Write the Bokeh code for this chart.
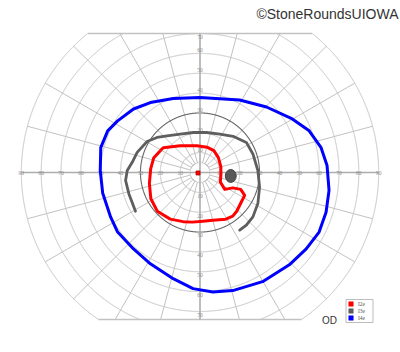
import numpy as np
from bokeh.plotting import figure
from bokeh.models import Range1d, Label
from bokeh.core.properties import value
from bokeh.embed import file_html
from bokeh.resources import INLINE

# ---------------- data (visual-field degrees, x = temporal/nasal, y = superior/inferior)
ring_radii = [10, 20, 30, 40, 50, 60, 70, 80, 90]
inner_ring = 5
spoke_angles = list(range(0, 360, 15))
h_tick_values = [10, 20, 30, 40, 50, 60, 70, 80, 90]
v_tick_values_up = [10, 20, 30, 40, 50, 60, 70]
v_tick_values_down = [10, 20, 30, 40, 50, 60, 70]
field_top = 70
field_bottom = -74

iso_names = ["I2e", "I3e", "I4e"]
iso_colors = ["#ff0000", "#5e5e5e", "#0000ff"]

i2e_x = [-20, -18.5, -10, -1.5, 3.5, 7, 9.25, 10.5, 10.5, 10.25, 12.5, 16.5, 20.5, 22.5,
         20.75, 18.5, 16.5, 13, 6.5, 1.5, -4, -8.5, -15, -21.5, -24.75, -25.5, -24.85, -23.35]
i2e_y = [11, 12.5, 13.5, 13.5, 12.75, 11, 7.5, 3, -1.5, -4.75, -8.5, -7.75, -8.5, -11.5,
         -15, -19.5, -22, -23.5, -24, -24.5, -25, -24.75, -23.5, -19.5, -13.25, -5.65, 1.85, 7.25]

i3e_x = [-32.5, -35.85, -37.5, -36.65, -34.15, -31.65, -26.65, -21.65, -16.65, -10, -3.35,
         3.35, 10, 16.65, 23.35, 26.65, 29.15, 30, 29.15, 26.65, 23.35, 20]
i3e_y = [-19.5, -10.65, -4, 1, 5.15, 10.15, 15.65, 17.65, 18.5, 19.35, 20.15,
         20.15, 19.35, 18.25, 15.15, 9.35, 1, -7.35, -15.65, -22.35, -26.5, -29]

i4e_x = [0, 20, 33.5, 46.5, 55, 61, 64, 65, 63.5, 60, 53.5, 45, 31.5, 16.5, 6.5, -3.5,
         -13.5, -25, -33.5, -41.5, -45, -49, -50.25, -50, -46.5, -41.5, -33.5, -25, -13.5]
i4e_y = [37.75, 36.5, 33, 27, 21, 12.5, 3.5, -9, -20, -30, -38.5, -46.5, -55, -59.5, -60.25,
         -58.5, -53.5, -46, -38.5, -30, -22.5, -10.5, 1, 12.5, 21, 26, 32, 35.25, 37.25]

blind_spot_x = [15.5]
blind_spot_y = [-1.75]
blind_spot_w = [5.5]
blind_spot_h = [6.5]
fixation_x = [-1]
fixation_y = [-0.25]

watermark = "©StoneRoundsUIOWA"
eye_label = "OD"

# ---------------- figure
X0, X1, Y0, Y1 = -100.5, 101.0, -90.68, 86.65
W, H = 400, 352
p = figure(width=W, height=H, output_backend="svg", toolbar_location=None,
           x_range=Range1d(X0, X1), y_range=Range1d(Y0, Y1),
           x_axis_type=None, y_axis_type=None, min_border=0)
p.outline_line_color = None
p.grid.visible = False
p.background_fill_color = "white"
p.border_fill_color = "white"


def sx(px):  # screen px (from left) -> data x
    return X0 + px / W * (X1 - X0)


def sy(py):  # screen px (from top) -> data y
    return Y1 - py / H * (Y1 - Y0)


GRID = "#c2c2c2"


def clipped_circle(r):
    t = np.linspace(0, 2 * np.pi, 2401)
    x = r * np.cos(t)
    y = r * np.sin(t)
    m = (y <= field_top) & (y >= field_bottom)
    segs_x, segs_y = [], []
    cur_x, cur_y = [], []
    for xi, yi, mi in zip(x, y, m):
        if mi:
            cur_x.append(float(xi)); cur_y.append(float(yi))
        elif cur_x:
            segs_x.append(cur_x); segs_y.append(cur_y); cur_x, cur_y = [], []
    if cur_x:
        segs_x.append(cur_x); segs_y.append(cur_y)
    return segs_x, segs_y


cx, cy = [], []
for r in [inner_ring] + [r for r in ring_radii if r != 30]:
    sx_, sy_ = clipped_circle(r)
    cx += sx_; cy += sy_
p.multi_line(cx, cy, line_color=GRID, line_width=1)

# spokes
spx, spy = [], []
for a in spoke_angles:
    if a % 90 == 0:
        continue
    rad = np.radians(a)
    s = np.sin(rad)
    r_end = ring_radii[-1]
    if s > 0:
        r_end = min(r_end, field_top / s)
    elif s < 0:
        r_end = min(r_end, field_bottom / s)
    spx.append([float(inner_ring * np.cos(rad)), float(r_end * np.cos(rad))])
    spy.append([float(inner_ring * np.sin(rad)), float(r_end * np.sin(rad))])
p.multi_line(spx, spy, line_color=GRID, line_width=1)

# top / bottom border lines
R = ring_radii[-1]
tx = float(np.sqrt(R ** 2 - field_top ** 2))
bx = float(np.sqrt(R ** 2 - field_bottom ** 2))
p.multi_line([[-tx, tx], [-bx, bx]], [[field_top, field_top], [field_bottom, field_bottom]],
             line_color=GRID, line_width=1.5)

# 30 degree ring (darker)
c30x, c30y = clipped_circle(30)
p.multi_line(c30x, c30y, line_color="#666666", line_width=1.1)

# main axes
p.multi_line([[-R, R], [0, 0]], [[0, 0], [field_bottom, field_top]],
             line_color="#adadad", line_width=1.6)

# tick labels
lx = [-v for v in h_tick_values] + h_tick_values
ly = [0] * len(lx)
lt = [str(v) for v in h_tick_values] * 2
p.text(lx, ly, text=lt, text_font=value("Liberation Serif"), text_font_size="5.5px",
       text_color="#8c8c8c", text_align="center", text_baseline="middle")
vx = [0] * (len(v_tick_values_up) + len(v_tick_values_down))
vy = [min(v + 1.5, field_top - 1.5) for v in v_tick_values_up] + [-v - 1.7 for v in v_tick_values_down]
vt = [str(v) for v in v_tick_values_up] + [str(v) for v in v_tick_values_down]
p.text(vx, vy, text=vt, text_font=value("Liberation Serif"), text_font_size="5.5px",
       text_color="#8c8c8c", text_align="center", text_baseline="middle")

# isopters
p.line(i4e_x + i4e_x[:1], i4e_y + i4e_y[:1], line_color=iso_colors[2], line_width=3,
       line_join="round")
p.line(i3e_x, i3e_y, line_color=iso_colors[1], line_width=2.8, line_join="round",
       line_cap="round")
p.line(i2e_x + i2e_x[:1], i2e_y + i2e_y[:1], line_color=iso_colors[0], line_width=3,
       line_join="round")

# blind spot and fixation
p.ellipse(blind_spot_x, blind_spot_y, width=blind_spot_w, height=blind_spot_h,
          fill_color="#585858", line_color="#444444", line_width=1)
p.scatter(fixation_x, fixation_y, marker="square", size=4, fill_color="#ff0000",
          line_color="#aa0000", line_width=0.8)

# legend box (layout in screen pixels)
LEG_LEFT, LEG_TOP, LEG_W, LEG_H = 345.5, 299.0, 27.0, 23.0
ROW_Y = [303.5, 310.5, 317.5]
p.rect([sx(LEG_LEFT + LEG_W / 2)], [sy(LEG_TOP + LEG_H / 2)], width=LEG_W, height=LEG_H,
       width_units="screen", height_units="screen", fill_color="white",
       line_color="#bdbdbd", line_width=1)
p.rect([sx(350.5)] * 3, [sy(r) for r in ROW_Y], width=4.5, height=4.5,
       width_units="screen", height_units="screen", fill_color=iso_colors,
       line_color=iso_colors, line_width=0.5)
p.text([sx(357.5)] * 3, [sy(r) for r in ROW_Y], text=iso_names,
       text_font=value("Liberation Serif"), text_font_size="5.5px", text_color="#555555",
       text_align="left", text_baseline="middle")

p.add_layout(Label(x=398, y=338.7, x_units="screen", y_units="screen", text=watermark,
                   text_align="right", text_baseline="alphabetic",
                   text_font="Liberation Sans", text_font_size="14px",
                   text_color="#333333"))
p.add_layout(Label(x=321.5, y=31.7, x_units="screen", y_units="screen", text=eye_label,
                   text_align="left", text_baseline="alphabetic",
                   text_font="Liberation Sans", text_font_size="10px",
                   text_color="#333333"))

open("out.html", "w").write(file_html(p, INLINE))
